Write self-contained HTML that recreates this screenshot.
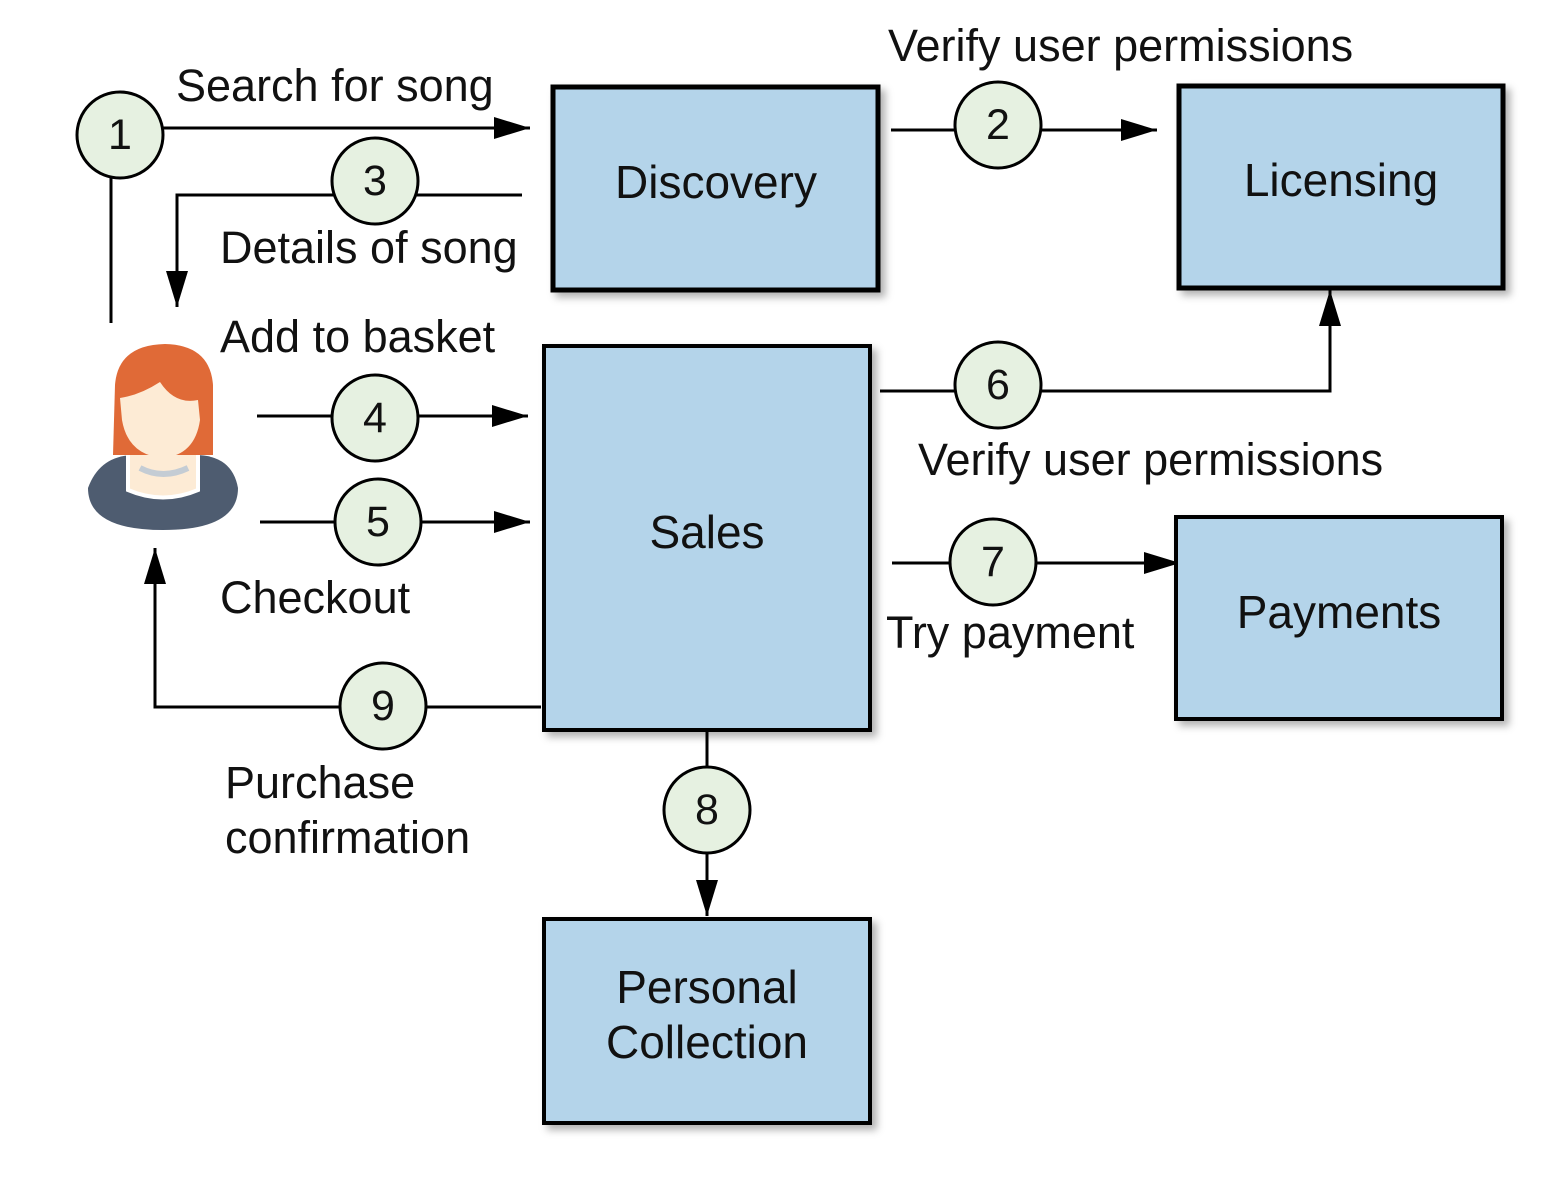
<!DOCTYPE html>
<html><head><style>
body{margin:0;background:#fff}
svg text{font-family:"Liberation Sans",Arial,sans-serif;fill:#111}
</style></head><body>
<svg width="1565" height="1175" viewBox="0 0 1565 1175" xmlns="http://www.w3.org/2000/svg">
<defs>
<marker id="b" viewBox="0 0 36 22" refX="36" refY="11" markerWidth="36" markerHeight="22" orient="auto" markerUnits="userSpaceOnUse"><path d="M0,0 L36,11 L0,22 Z" fill="#000"/></marker>
<filter id="sh" x="-10%" y="-10%" width="130%" height="130%"><feDropShadow dx="5" dy="5" stdDeviation="4" flood-color="#000" flood-opacity="0.3"/></filter>
</defs>
<g stroke="#000" stroke-width="3" fill="none">
<path d="M163,128 H530" marker-end="url(#b)"/>
<path d="M111,178 V323"/>
<path d="M891,130 H1157" marker-end="url(#b)"/>
<path d="M522,195 H177 V307" marker-end="url(#b)"/>
<path d="M257,416 H528" marker-end="url(#b)"/>
<path d="M260,522 H530" marker-end="url(#b)"/>
<path d="M880,391 H1330 V290" marker-end="url(#b)"/>
<path d="M892,563 H1180" marker-end="url(#b)"/>
<path d="M707,731 V916" marker-end="url(#b)"/>
<path d="M541,707 H155 V548" marker-end="url(#b)"/>
</g>
<g fill="#b4d4ea" stroke="#000" stroke-width="5" filter="url(#sh)">
<rect x="553" y="87" width="325" height="203"/>
<rect x="1179" y="86" width="324" height="202"/>
<rect x="544" y="346" width="326" height="384" stroke-width="4"/>
<rect x="1176" y="517" width="326" height="202" stroke-width="4"/>
<rect x="544" y="919" width="326" height="204" stroke-width="4"/>
</g>
<g font-size="46" text-anchor="middle">
<text x="716" y="198">Discovery</text>
<text x="1341" y="196">Licensing</text>
<text x="707" y="548">Sales</text>
<text x="1339" y="628">Payments</text>
<text x="707" y="1003">Personal</text>
<text x="707" y="1058">Collection</text>
</g>
<g fill="#e6f1e1" stroke="#000" stroke-width="3">
<circle cx="120" cy="135" r="43"/><circle cx="998" cy="125" r="43"/>
<circle cx="375" cy="181" r="43"/><circle cx="375" cy="418" r="43"/>
<circle cx="378" cy="522" r="43"/><circle cx="998" cy="385" r="43"/>
<circle cx="993" cy="562" r="43"/><circle cx="707" cy="810" r="43"/>
<circle cx="383" cy="706" r="43"/>
</g>
<g font-size="43" text-anchor="middle">
<text x="120" y="149">1</text><text x="998" y="139">2</text>
<text x="375" y="195">3</text><text x="375" y="432">4</text>
<text x="378" y="536">5</text><text x="998" y="399">6</text>
<text x="993" y="576">7</text><text x="707" y="824">8</text>
<text x="383" y="720">9</text>
</g>
<g font-size="45">
<text x="176" y="101">Search for song</text>
<text x="888" y="61">Verify user permissions</text>
<text x="220" y="263">Details of song</text>
<text x="220" y="352">Add to basket</text>
<text x="918" y="475">Verify user permissions</text>
<text x="220" y="613">Checkout</text>
<text x="886" y="648">Try payment</text>
<text x="225" y="798">Purchase</text>
<text x="225" y="853">confirmation</text>
</g>
<g>
<path d="M88,488 Q100,455 135,455 L195,455 Q232,455 238,488 Q238,530 163,530 Q88,530 88,488 Z" fill="#4e5c70"/>
<path d="M128,450 L198,450 L198,490 Q163,505 128,490 Z" fill="#fdebd5" stroke="#fff" stroke-width="4"/>
<path d="M140,468 Q163,480 188,468" stroke="#c4ccd4" stroke-width="6" fill="none"/>
<path d="M113,455 L115,385 Q118,345 165,344 Q210,345 213,385 L213,455 Z" fill="#e06a37"/>
<path d="M120,398 Q140,395 160,382 Q175,405 198,400 L200,420 Q195,455 163,458 Q128,455 122,420 Z" fill="#fdebd5"/>
</g>
</svg>
</body></html>
